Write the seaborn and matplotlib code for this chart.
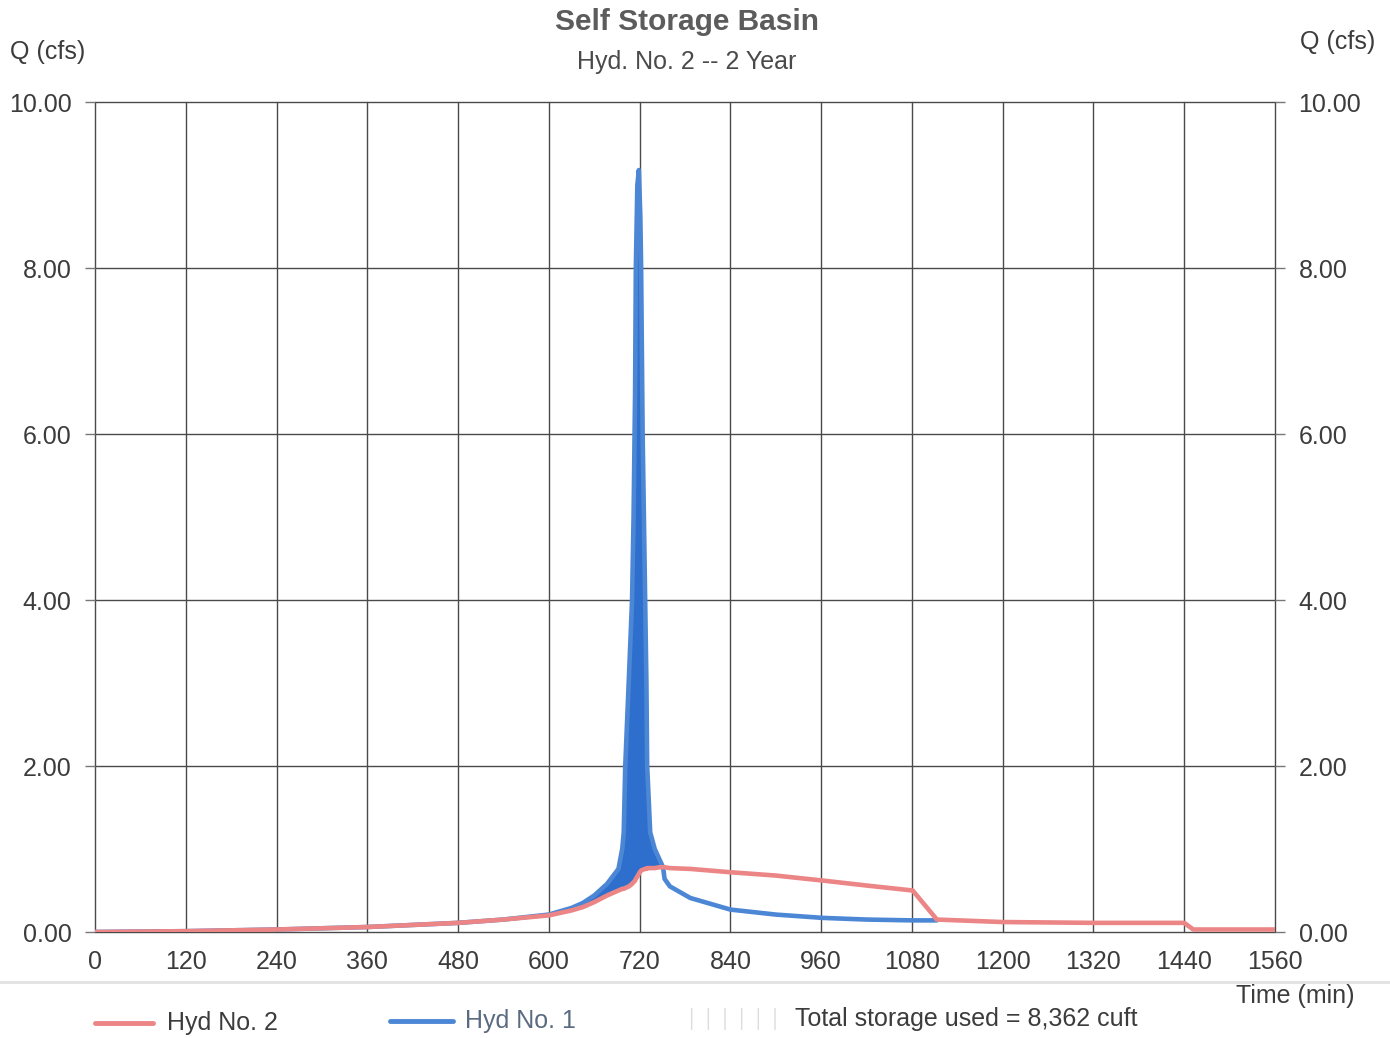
import numpy as np
import pandas as pd
import matplotlib
matplotlib.use("Agg")
import matplotlib.pyplot as plt
from matplotlib.lines import Line2D
from matplotlib.patches import Rectangle
import seaborn as sns

# ---- data ----
time_min = [0, 120, 240, 360, 480, 540, 600, 630, 645, 660, 677, 692, 697, 699, 701, 706, 710,
            712, 714, 715, 717, 719, 721, 722, 724, 727, 729, 730, 734, 740, 746, 751, 753, 760,
            787, 840, 900, 962, 1020, 1081, 1113, 1200, 1320, 1440, 1452, 1560]
hyd2_outflow = [0.00, 0.01, 0.03, 0.06, 0.11, 0.15, 0.20, 0.26, 0.30, 0.36, 0.44, 0.50, 0.52, 0.52,
                0.53, 0.55, 0.58, 0.60, 0.62, 0.64, 0.67, 0.70, 0.73, 0.74, 0.75, 0.76, 0.76, 0.77,
                0.77, 0.77, 0.78, 0.78, 0.78, 0.77, 0.76, 0.72, 0.68, 0.62, 0.56, 0.50, 0.15, 0.12,
                0.11, 0.11, 0.03, 0.03]
hyd1_inflow = [0.00, 0.01, 0.03, 0.06, 0.11, 0.15, 0.21, 0.29, 0.35, 0.44, 0.58, 0.76, 1.00, 1.20,
               2.00, 3.10, 4.00, 5.00, 6.50, 8.00, 9.00, 9.18, 8.60, 8.00, 6.00, 4.20, 3.00, 2.00,
               1.20, 1.00, 0.88, 0.78, 0.64, 0.55, 0.41, 0.27, 0.21, 0.17, 0.15, 0.14, 0.14,
               np.nan, np.nan, np.nan, np.nan, np.nan]
x_ticks = [0, 120, 240, 360, 480, 600, 720, 840, 960, 1080, 1200, 1320, 1440, 1560]
y_ticks = [0, 2, 4, 6, 8, 10]
y_tick_labels = ["0.00", "2.00", "4.00", "6.00", "8.00", "10.00"]
title = "Self Storage Basin"
subtitle = "Hyd. No. 2 -- 2 Year"
storage_text = "Total storage used = 8,362 cuft"

df = pd.DataFrame({"t": time_min, "hyd2": hyd2_outflow, "hyd1": hyd1_inflow})

sns.set_theme(style="white")
plt.rcParams["font.family"] = ["Liberation Sans", "DejaVu Sans"]

TXT = "#3c3c3c"
RED = "#EC8585"
BLUE_LINE = "#4C87D6"
BLUE_FILL = "#2E6FCD"
GRID = "#4a4a4a"
FS = 18

fig = plt.figure(figsize=(13.9, 10.38), dpi=100)
ax = fig.add_axes([95 / 1390, 1 - 932 / 1038, 1180 / 1390, 830 / 1038])

# storage fill between inflow and outflow
t = df["t"].to_numpy()
b = df["hyd1"].to_numpy()
r = df["hyd2"].to_numpy()
mask = ~np.isnan(b)
ax.fill_between(t[mask], r[mask], b[mask], where=b[mask] > r[mask], interpolate=True,
                color=BLUE_FILL, linewidth=0, zorder=2)

sns.lineplot(data=df, x="t", y="hyd1", ax=ax, color=BLUE_LINE, linewidth=3.3, zorder=3,
             legend=False)
sns.lineplot(data=df, x="t", y="hyd2", ax=ax, color=RED, linewidth=3.3, zorder=4,
             legend=False)

ax.set_xlim(0, 1560)
ax.set_ylim(0, 10)
ax.set_xticks(x_ticks)
ax.set_xticklabels([str(v) for v in x_ticks])
ax.set_yticks(y_ticks)
ax.set_yticklabels(y_tick_labels)
ax.set_xlabel("")
ax.set_ylabel("")
ax.grid(True, color=GRID, linewidth=1.0, zorder=1)
ax.set_axisbelow(True)
for gl in ax.get_xgridlines() + ax.get_ygridlines():
    gl.set_clip_on(False)
for s in ax.spines.values():
    s.set_visible(False)
ax.tick_params(axis="y", left=True, right=True, labelleft=True, labelright=True,
               length=7, width=1.0, color="#777777", pad=10, labelsize=FS, labelcolor=TXT)
ax.tick_params(axis="x", bottom=False, length=0, pad=13, labelsize=FS, labelcolor=TXT)

# titles and axis captions
fig.text(687 / 1390, 1 - 22 / 1038, title, ha="center", va="center", fontsize=21.5,
         fontweight="bold", color="#5c5c5c")
fig.text(687 / 1390, 1 - 62 / 1038, subtitle, ha="center", va="center", fontsize=18,
         color="#4a4a4a")
fig.text(10 / 1390, 1 - 52 / 1038, "Q (cfs)", ha="left", va="center", fontsize=FS, color=TXT)
fig.text(1375 / 1390, 1 - 42 / 1038, "Q (cfs)", ha="right", va="center", fontsize=FS, color=TXT)
fig.text(1355 / 1390, 1 - 996 / 1038, "Time (min)", ha="right", va="center", fontsize=FS,
         color=TXT)

# separator line
fig.add_artist(Line2D([0, 1], [1 - 982 / 1038] * 2, transform=fig.transFigure,
                      color="#e2e2e2", linewidth=2))

# legend
ly = 1 - 1023 / 1038
fig.add_artist(Line2D([95 / 1390, 153 / 1390], [ly, ly], transform=fig.transFigure,
                      color=RED, linewidth=3.5))
fig.text(167 / 1390, ly, "Hyd No. 2", ha="left", va="center", fontsize=FS, color=TXT)
fig.add_artist(Line2D([390 / 1390, 453 / 1390], [ly + 2 / 1038] * 2, transform=fig.transFigure,
                      color=BLUE_LINE, linewidth=3.5))
fig.text(465 / 1390, ly + 2 / 1038, "Hyd No. 1", ha="left", va="center", fontsize=FS,
         color="#5a6a80")
fig.add_artist(Rectangle((690 / 1390, 1 - 1030 / 1038), 95 / 1390, 22 / 1038,
                         transform=fig.transFigure, facecolor="white", edgecolor="#dcdcdc",
                         hatch="|", linewidth=0))
fig.text(795 / 1390, 1 - 1019 / 1038, storage_text, ha="left", va="center", fontsize=FS,
         color=TXT)

fig.savefig("out.png", dpi=100, facecolor="white")
